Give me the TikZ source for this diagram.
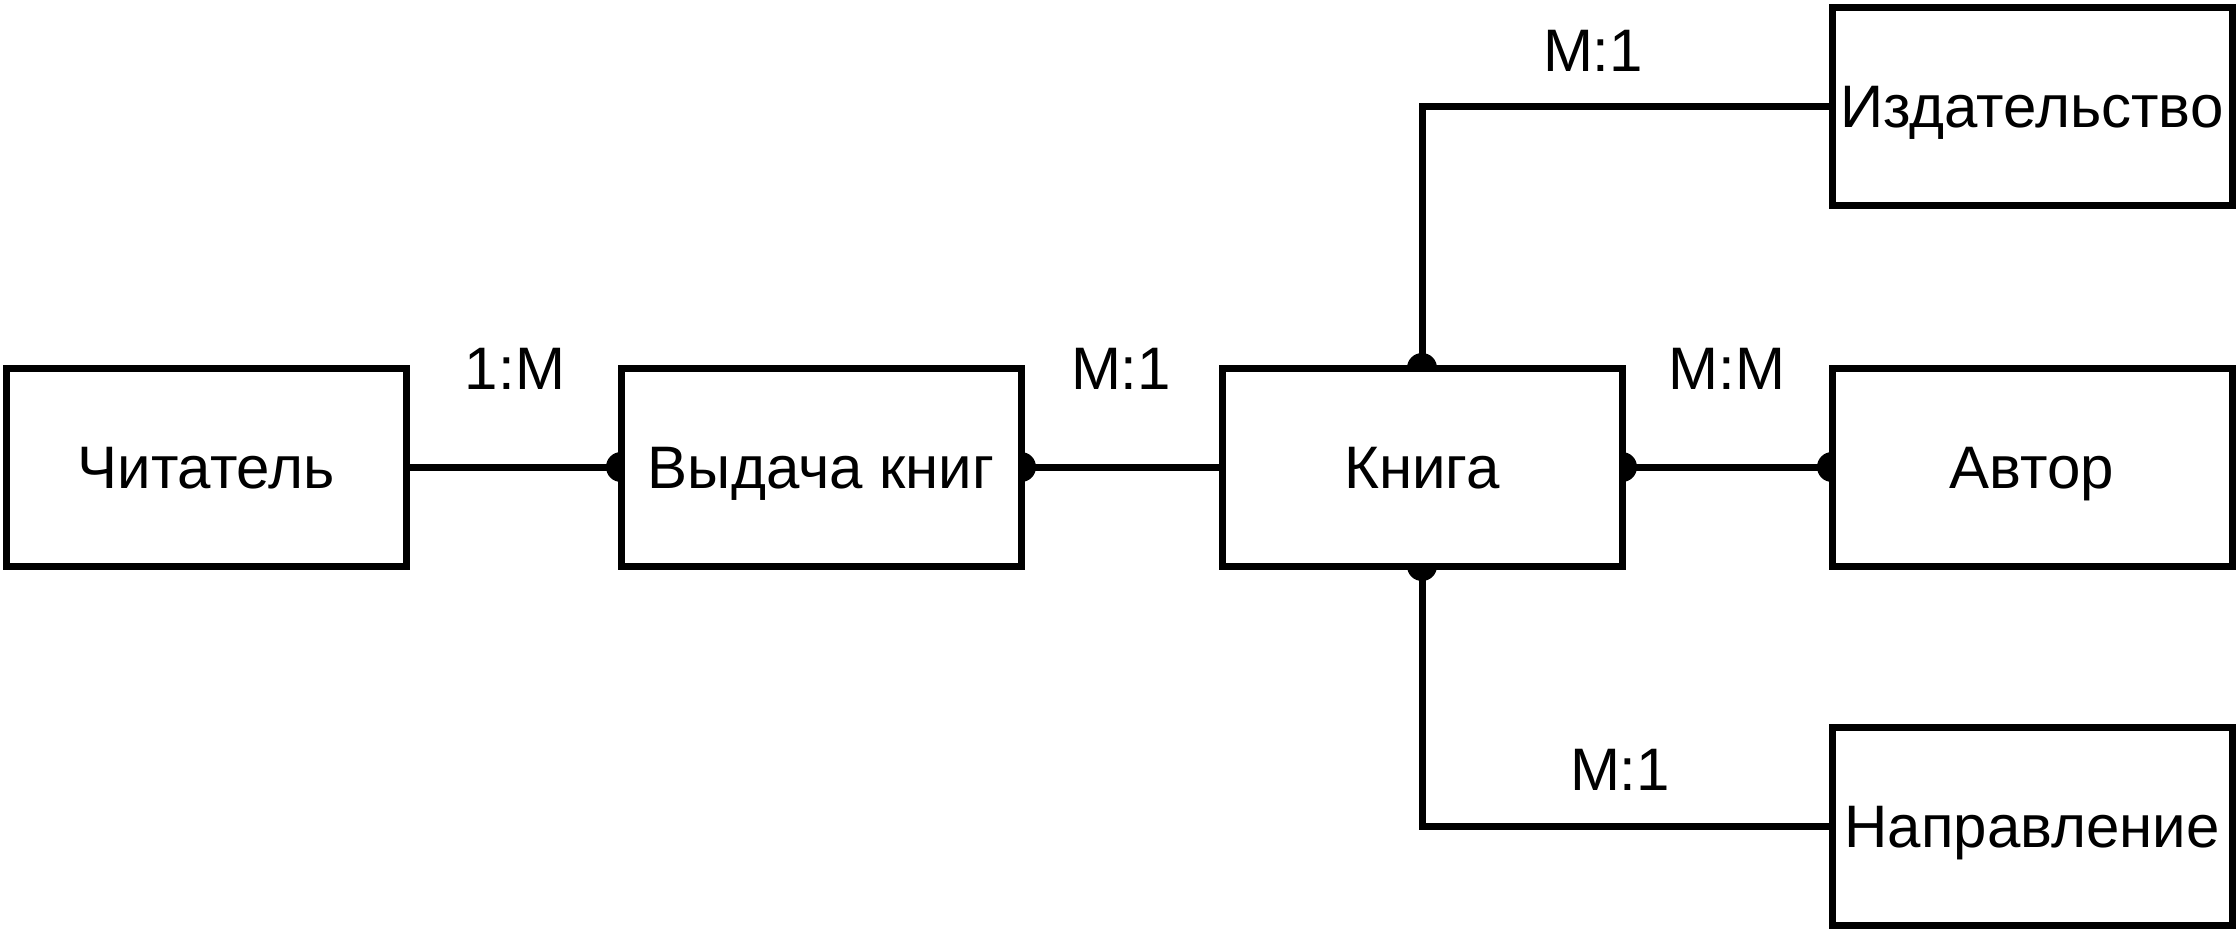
\documentclass[tikz,border=0pt]{standalone}
\usepackage{fontspec}
\setmainfont{Liberation Sans}
\usetikzlibrary{backgrounds}
\begin{document}
\begin{tikzpicture}[x=0.5pt,y=-0.5pt,
  ent/.style={draw, line width=3.5pt, fill=white, minimum width=200pt, minimum height=99pt,
    inner sep=0pt, outer sep=0pt, text height=21.5pt, text depth=0pt,
    font=\fontsize{30pt}{36pt}\selectfont},
  rel/.style={line width=3.5pt},
  lbl/.style={font=\fontsize{30pt}{36pt}\selectfont, inner sep=0pt},
  enddot/.style={fill=black}]
\useasboundingbox (0,0) rectangle (2236,928);
\node[ent] (chit) at (206,467) {Читатель};
\node[ent] (vyd) at (821,467) {Выдача книг};
\node[ent] (kniga) at (1422,467) {Книга};
\node[ent] (avtor) at (2032,467) {Автор};
\node[ent] (izd) at (2032,106) {Издательство};
\node[ent] (napr) at (2032,826) {Направление};
\node[lbl] (l1) at (515,369) {1:M};
\node[lbl] (l2) at (1121,369) {M:1};
\node[lbl] (l3) at (1727,369) {M:M};
\node[lbl] (l4) at (1593,51) {M:1};
\node[lbl] (l5) at (1620,770) {M:1};
\begin{scope}[on background layer]
  \draw[rel] (chit.east) -- (vyd.west);
  \fill[enddot] (vyd.west) circle[radius=7.5pt];
  \draw[rel] (vyd.east) -- (kniga.west);
  \fill[enddot] (vyd.east) circle[radius=7.5pt];
  \draw[rel] (kniga.east) -- (avtor.west);
  \fill[enddot] (kniga.east) circle[radius=7.5pt];
  \fill[enddot] (avtor.west) circle[radius=7.5pt];
  \draw[rel] (kniga.north) |- (izd.west);
  \fill[enddot] (kniga.north) circle[radius=7.5pt];
  \draw[rel] (kniga.south) |- (napr.west);
  \fill[enddot] (kniga.south) circle[radius=7.5pt];
\end{scope}
\end{tikzpicture}
\end{document}
